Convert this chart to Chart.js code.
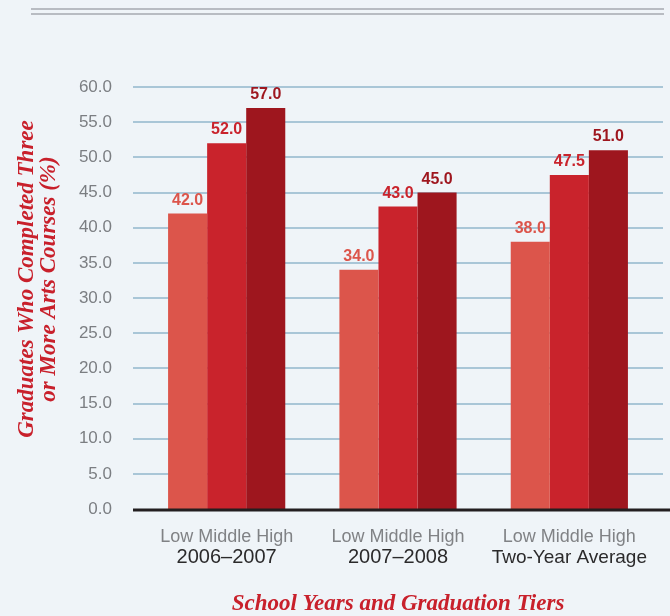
<!DOCTYPE html>
<html>
<head>
<meta charset="utf-8">
<script src="https://cdn.jsdelivr.net/npm/chart.js@4.4.1/dist/chart.umd.min.js"></script>
<style>
  html, body { margin: 0; padding: 0; background: #eff4f8; }
  #wrap { width: 670px; height: 616px; position: relative; }
</style>
</head>
<body>
<div id="wrap"><canvas id="artsChart"></canvas></div>
<script>
const groups = ["2006–2007", "2007–2008", "Two-Year Average"];
const tierLine = "Low Middle High";
const tiers = ["Low", "Middle", "High"];
const lowValues = [42.0, 34.0, 38.0];
const middleValues = [52.0, 43.0, 47.5];
const highValues = [57.0, 45.0, 51.0];
const yTitle = ["Graduates Who Completed Three", "or More Arts Courses (%)"];
const xTitle = "School Years and Graduation Tiers";

const tierColors = ["#dc554b", "#c9232c", "#9e161e"];
const sans = "'Liberation Sans', Arial, sans-serif";
const serif = "'Liberation Serif', 'DejaVu Serif', serif";

const decorPlugin = {
  id: "decor",
  beforeDatasetsDraw(chart) {
    const ctx = chart.ctx;
    const y = chart.scales.y;
    ctx.save();
    // top double rule
    ctx.strokeStyle = "#b8bcc2";
    ctx.lineWidth = 2;
    [9, 14].forEach(py => {
      ctx.beginPath();
      ctx.moveTo(31, py);
      ctx.lineTo(664, py);
      ctx.stroke();
    });
    // gridlines
    ctx.strokeStyle = "#a9c6d7";
    ctx.lineWidth = 2;
    for (let v = 5; v <= 60; v += 5) {
      const py = Math.round(y.getPixelForValue(v));
      ctx.beginPath();
      ctx.moveTo(133, py);
      ctx.lineTo(663, py);
      ctx.stroke();
    }
    ctx.restore();
  },
  afterDatasetsDraw(chart) {
    const ctx = chart.ctx;
    const y = chart.scales.y;
    const x = chart.scales.x;
    ctx.save();
    // zero line
    ctx.strokeStyle = "#231f20";
    ctx.lineWidth = 3;
    const zy = y.getPixelForValue(0) + 1;
    ctx.beginPath();
    ctx.moveTo(133, zy);
    ctx.lineTo(670, zy);
    ctx.stroke();

    // value labels
    ctx.font = "bold 16px " + sans;
    ctx.textAlign = "center";
    ctx.textBaseline = "alphabetic";
    chart.data.datasets.forEach((ds, di) => {
      const meta = chart.getDatasetMeta(di);
      ctx.fillStyle = tierColors[di];
      meta.data.forEach((bar, i) => {
        ctx.fillText(ds.data[i].toFixed(1), bar.x, bar.y - 9);
      });
    });

    // category labels
    groups.forEach((g, i) => {
      const cx = x.getPixelForValue(i);
      ctx.font = "18px " + sans;
      ctx.fillStyle = "#808285";
      ctx.fillText(tierLine, cx, 542);
      ctx.font = (i === 2 ? "19px " : "20px ") + sans;
      ctx.fillStyle = "#2b2a2b";
      ctx.fillText(g, cx, 563);
    });

    // axis titles
    ctx.fillStyle = "#c8202b";
    ctx.font = "italic bold 23px " + serif;
    ctx.fillText(xTitle, 398, 610);
    ctx.translate(0, 279);
    ctx.rotate(-Math.PI / 2);
    ctx.fillText(yTitle[0], 0, 33);
    ctx.fillText(yTitle[1], 0, 55);
    ctx.restore();
  }
};

new Chart(document.getElementById("artsChart"), {
  type: "bar",
  data: {
    labels: groups,
    datasets: [
      { label: tiers[0], data: lowValues, backgroundColor: tierColors[0] },
      { label: tiers[1], data: middleValues, backgroundColor: tierColors[1] },
      { label: tiers[2], data: highValues, backgroundColor: tierColors[2] }
    ]
  },
  options: {
    responsive: true,
    maintainAspectRatio: false,
    animation: false,
    layout: { padding: { top: 87, right: 15, left: 0, bottom: 0 } },
    datasets: { bar: { categoryPercentage: 0.684, barPercentage: 1, borderWidth: 0 } },
    plugins: { legend: { display: false }, tooltip: { enabled: false } },
    scales: {
      x: {
        grid: { display: false, drawTicks: false },
        border: { display: false },
        ticks: { display: false },
        afterFit(scale) { scale.height = 107; }
      },
      y: {
        min: 0,
        max: 60,
        grid: { display: false, drawTicks: false },
        border: { display: false },
        ticks: {
          stepSize: 5,
          padding: 29,
          color: "#7b7e82",
          font: { family: sans, size: 17 },
          callback: v => v.toFixed(1)
        },
        afterFit(scale) { scale.width = 141; }
      }
    }
  },
  plugins: [decorPlugin]
});
</script>
</body>
</html>
